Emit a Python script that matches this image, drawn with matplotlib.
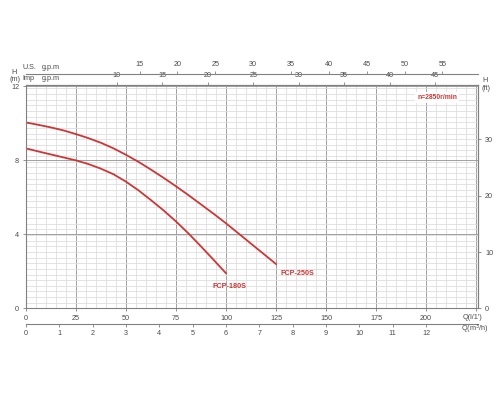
import matplotlib
matplotlib.use('Agg')
import matplotlib.pyplot as plt
from matplotlib.ticker import FixedLocator
import numpy as np

plt.rcParams['font.family'] = ['Liberation Sans', 'DejaVu Sans']

# ---- data ----
q_250 = [0, 6.25, 12.5, 18.75, 25, 31.25, 37.5, 43.75, 50, 56.25, 62.5, 68.75,
         75, 81.25, 87.5, 93.75, 100, 106.25, 112.5, 118.75, 125]
h_250 = [10.05, 9.92, 9.78, 9.62, 9.42, 9.2, 8.95, 8.65, 8.3, 7.92, 7.5, 7.06,
         6.6, 6.12, 5.62, 5.12, 4.6, 4.05, 3.5, 2.95, 2.4]
q_180 = [0, 6.25, 12.5, 18.75, 25, 31.25, 37.5, 43.75, 50, 56.25, 62.5, 68.75,
         75, 81.25, 87.5, 93.75, 100]
h_180 = [8.65, 8.48, 8.32, 8.16, 8.0, 7.8, 7.55, 7.25, 6.85, 6.38, 5.85, 5.3,
         4.7, 4.05, 3.35, 2.63, 1.9]
series_labels = ['FCP-250S', 'FCP-180S']
speed_label = 'n=2850r/min'

q_ticks = [0, 25, 50, 75, 100, 125, 150, 175, 200]
h_ticks = [0, 4, 8, 12]
ft_ticks = [0, 10, 20, 30]
usgpm_ticks = [15, 20, 25, 30, 35, 40, 45, 50, 55]
impgpm_ticks = [10, 15, 20, 25, 30, 35, 40, 45]
m3h_ticks = [0, 1, 2, 3, 4, 5, 6, 7, 8, 9, 10, 11, 12]

RED = '#cc3636'
AX = '#808080'
TXT = '#4a4a4a'
FS = 5.2

fig = plt.figure(figsize=(5, 4), dpi=100)
ax = fig.add_axes([0.052, 0.229, 0.904, 0.5597])
ax.set_xlim(0, 226)
ax.set_ylim(0, 12.1)

# grid
ax.xaxis.set_major_locator(FixedLocator(q_ticks + [225]))
ax.set_xticklabels([str(t) for t in q_ticks] + [''])
ax.xaxis.set_minor_locator(FixedLocator(np.arange(0, 226, 5)))
ax.yaxis.set_major_locator(FixedLocator(h_ticks))
ax.yaxis.set_minor_locator(FixedLocator(np.arange(0, 12.1, 0.3048)))
ax.grid(which='minor', color='#dedede', lw=0.6)
ax.grid(which='major', color='#a0a0a0', lw=0.7)
ax.set_axisbelow(True)
ax.tick_params(which='minor', length=0)
ax.tick_params(which='major', length=2.5, width=0.6, color=AX, labelsize=FS,
               labelcolor=TXT, pad=2.5)
for s in ax.spines.values():
    s.set_color(AX)
    s.set_linewidth(0.8)

# curves
ax.plot(q_250, h_250, color=RED, lw=1.3)
ax.plot(q_180, h_180, color=RED, lw=1.3)
ax.text(135.5, 1.9, series_labels[0], color=RED, fontsize=5.2, fontweight='bold',
        ha='center', va='center')
ax.text(101.5, 1.2, series_labels[1], color=RED, fontsize=5.2, fontweight='bold',
        ha='center', va='center')
ax.text(205.7, 11.4, speed_label, color=RED, fontsize=4.9, fontweight='bold',
        ha='center', va='center',
        bbox=dict(facecolor='white', edgecolor='none', pad=1.5))

# secondary axes
def style_sec(sa):
    sa.tick_params(length=2.5, width=0.6, color=AX, labelsize=FS, labelcolor=TXT, pad=1.5)
    for s in sa.spines.values():
        s.set_color(AX)
        s.set_linewidth(0.8)

imp = ax.secondary_xaxis('top', functions=(lambda q: q / 4.546, lambda g: g * 4.546))
imp.set_xticks(impgpm_ticks)
style_sec(imp)

us = ax.secondary_xaxis(1 + 11.0 / 223.9, functions=(lambda q: q / 3.785, lambda g: g * 3.785))
us.set_xticks(usgpm_ticks)
style_sec(us)

m3h = ax.secondary_xaxis(-16.0 / 223.9, functions=(lambda q: q / 16.667, lambda m: m * 16.667))
m3h.set_xticks(m3h_ticks)
style_sec(m3h)

ft = ax.secondary_yaxis('right', functions=(lambda m: m / 0.3048, lambda f: f * 0.3048))
ft.set_yticks(ft_ticks)
style_sec(ft)
ft.tick_params(pad=2.5)

# axis captions
def ftext(x, y, s, ha='center'):
    fig.text(x / 500, 1 - y / 400, s, fontsize=FS, color=TXT, ha=ha, va='center')

ftext(14.3, 72.0, 'H')
ftext(15.5, 79.5, '(m)')
ftext(22.5, 67.5, 'U.S.', ha='left')
ftext(42, 67.5, 'g.p.m', ha='left')
ftext(22.5, 78.5, 'Imp', ha='left')
ftext(42, 78.5, 'g.p.m', ha='left')
ftext(485, 81.0, 'H')
ftext(485.5, 88.5, '(ft)')
ftext(463, 317.5, "Q(l/1')", ha='left')
ftext(461, 329, 'Q(m$^3$/h)', ha='left')

fig.savefig('out.png', dpi=100)
